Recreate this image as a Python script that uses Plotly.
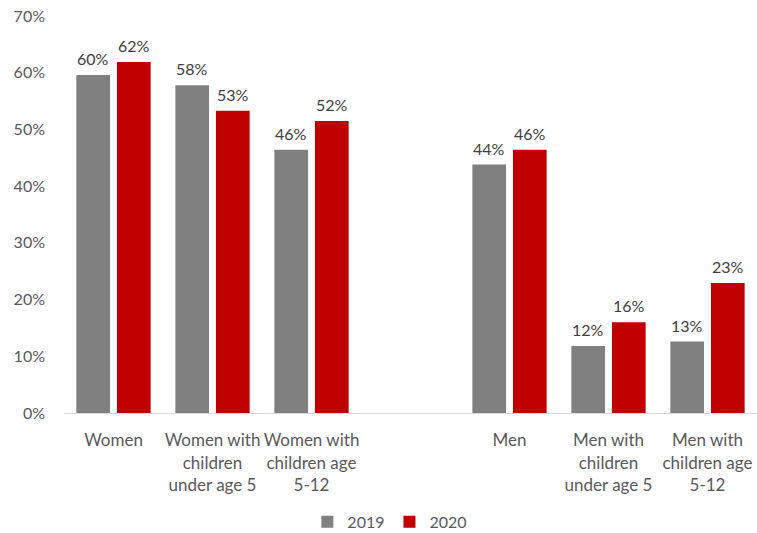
import plotly.graph_objects as go

categories = ["Women", "Women with<br>children<br>under age 5", "Women with<br>children age<br>5-12", " ",
              "Men", "Men with<br>children<br>under age 5", "Men with<br>children age<br>5-12"]
values_2019 = [59.6, 57.8, 46.4, None, 43.8, 11.8, 12.6]
values_2020 = [61.9, 53.3, 51.5, None, 46.4, 16.0, 22.9]
y_ticks = [0, 10, 20, 30, 40, 50, 60, 70]

FONT = "Lato"
TXT = "#595959"
BARGAP = 0.18

fig = go.Figure()
series = [("2019", values_2019, "#808080"), ("2020", values_2020, "#C00000")]
for name, vals, col in series:
    fig.add_trace(go.Bar(
        x=categories, y=vals, name=name, marker_color=col,
        marker_line_width=0,
    ))

# data labels placed above each bar (category index +/- half a bar slot)
slot = (1 - BARGAP) / len(series)
for si, (name, vals, col) in enumerate(series):
    off = (si - (len(series) - 1) / 2) * slot
    for ci, v in enumerate(vals):
        if v is None:
            continue
        fig.add_annotation(x=ci + off, y=v, text=f"{round(v):.0f}%", showarrow=False,
                           yanchor="bottom", yshift=5,
                           font=dict(family=FONT, size=16, color="#404040"))

fig.update_layout(
    width=757, height=533,
    margin=dict(l=64, r=0, t=16, b=120),
    plot_bgcolor="white", paper_bgcolor="white",
    barmode="group", bargap=BARGAP, bargroupgap=0.17,
    font=dict(family=FONT, size=16, color=TXT),
    legend=dict(orientation="h", xref="container", yref="container",
                x=0.515, xanchor="center", y=0.021, yanchor="middle",
                font=dict(family=FONT, size=16, color=TXT), itemwidth=30,
                traceorder="normal"),
    xaxis=dict(type="category", showline=True, linecolor="#d9d9d9", linewidth=1,
               ticks="", ticklabelstandoff=12,
               tickfont=dict(family=FONT, size=17, color=TXT)),
    yaxis=dict(range=[0, 70], tickvals=y_ticks, ticktext=[f"{t}%" for t in y_ticks],
               showgrid=False, zeroline=False, showline=False, ticks="",
               ticklabelstandoff=18,
               tickfont=dict(family=FONT, size=16, color=TXT)),
)
fig.write_html("out.html", config={"displayModeBar": False},
               post_script="document.body.style.margin='0';document.body.style.overflow='hidden';")
